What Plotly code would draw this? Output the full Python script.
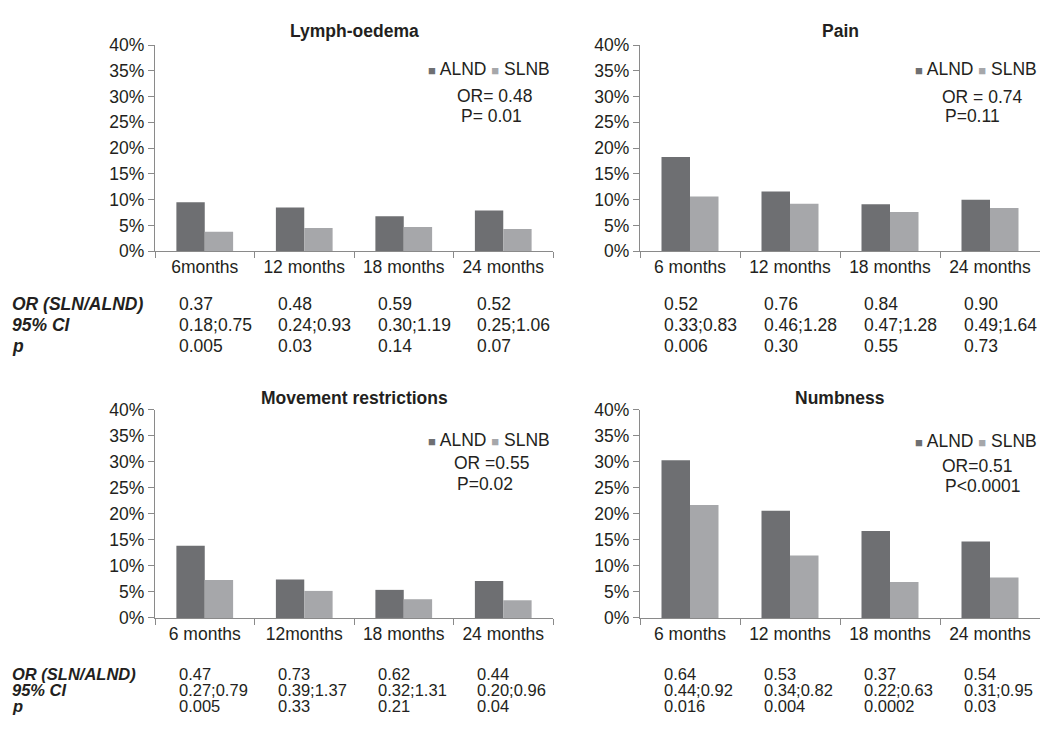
import plotly.graph_objects as go

# ---- data -------------------------------------------------------------
lymph_categories = ["6months", "12 months", "18 months", "24 months"]
pain_categories = ["6 months", "12 months", "18 months", "24 months"]
movement_categories = ["6 months", "12months", "18 months", "24 months"]
numbness_categories = ["6 months", "12 months", "18 months", "24 months"]

lymph_alnd = [9.5, 8.5, 6.8, 7.9]
lymph_slnb = [3.8, 4.5, 4.7, 4.3]
pain_alnd = [18.3, 11.6, 9.1, 10.0]
pain_slnb = [10.6, 9.2, 7.6, 8.4]
movement_alnd = [13.9, 7.4, 5.4, 7.1]
movement_slnb = [7.3, 5.2, 3.6, 3.4]
numbness_alnd = [30.3, 20.6, 16.7, 14.7]
numbness_slnb = [21.7, 12.0, 6.9, 7.8]

lymph_or = ["0.37", "0.48", "0.59", "0.52"]
lymph_ci = ["0.18;0.75", "0.24;0.93", "0.30;1.19", "0.25;1.06"]
lymph_p = ["0.005", "0.03", "0.14", "0.07"]
pain_or = ["0.52", "0.76", "0.84", "0.90"]
pain_ci = ["0.33;0.83", "0.46;1.28", "0.47;1.28", "0.49;1.64"]
pain_p = ["0.006", "0.30", "0.55", "0.73"]
movement_or = ["0.47", "0.73", "0.62", "0.44"]
movement_ci = ["0.27;0.79", "0.39;1.37", "0.32;1.31", "0.20;0.96"]
movement_p = ["0.005", "0.33", "0.21", "0.04"]
numbness_or = ["0.64", "0.53", "0.37", "0.54"]
numbness_ci = ["0.44;0.92", "0.34;0.82", "0.22;0.63", "0.31;0.95"]
numbness_p = ["0.016", "0.004", "0.0002", "0.03"]

panel_titles = ["Lymph-oedema", "Pain", "Movement restrictions", "Numbness"]
overall_or = ["OR= 0.48", "OR = 0.74", "OR =0.55", "OR=0.51"]
overall_p = ["P= 0.01", "P=0.11", "P=0.02", "P<0.0001"]
row_labels = ["OR (SLN/ALND)", "95% CI", "p"]
y_ticks = [0, 5, 10, 15, 20, 25, 30, 35, 40]
y_tick_text = ["0%", "5%", "10%", "15%", "20%", "25%", "30%", "35%", "40%"]

# ---- styling ----------------------------------------------------------
W, H = 1041, 734
FONT = "Liberation Sans, Arial, sans-serif"
TXT = "#231f20"
AX = "#8a8a8a"
C_ALND = "#6e6f72"
C_SLNB = "#a6a7aa"
FS = 17.5


def px(x):
    return x / W


def py(y):
    return 1 - y / H


panels = [
    dict(cats=lymph_categories, alnd=lymph_alnd, slnb=lymph_slnb,
         orv=lymph_or, ci=lymph_ci, p=lymph_p,
         x0=155, x1=553, y0=36, y1=248, title_y=22, leg_y=61,
         or_xy=(455, 88), p_xy=(459, 109), rows_y=[302, 324, 345],
         tsize=17.5, lsize=17.5),
    dict(cats=pain_categories, alnd=pain_alnd, slnb=pain_slnb,
         orv=pain_or, ci=pain_ci, p=pain_p,
         x0=640, x1=1040, y0=36, y1=248, title_y=22, leg_y=61,
         or_xy=(940, 89), p_xy=(943, 109), rows_y=[302, 324, 345],
         tsize=17.5, lsize=17.5),
    dict(cats=movement_categories, alnd=movement_alnd, slnb=movement_slnb,
         orv=movement_or, ci=movement_ci, p=movement_p,
         x0=155, x1=553, y0=411, y1=625, title_y=399, leg_y=442,
         or_xy=(452, 466), p_xy=(455, 487), rows_y=[683, 699, 715],
         tsize=16.5, lsize=16.5),
    dict(cats=numbness_categories, alnd=numbness_alnd, slnb=numbness_slnb,
         orv=numbness_or, ci=numbness_ci, p=numbness_p,
         x0=640, x1=1040, y0=411, y1=625, title_y=399, leg_y=443,
         or_xy=(940, 469), p_xy=(943, 489), rows_y=[683, 699, 715],
         tsize=16.5, lsize=16.5),
]

fig = go.Figure()
annotations = []
layout = {}

for i, pnl in enumerate(panels, start=1):
    suffix = "" if i == 1 else str(i)
    xa, ya = "x" + suffix, "y" + suffix

    fig.add_trace(go.Bar(x=pnl["cats"], y=pnl["alnd"], name="ALND",
                         marker=dict(color=C_ALND, line=dict(width=0)),
                         xaxis=xa, yaxis=ya, showlegend=False))
    fig.add_trace(go.Bar(x=pnl["cats"], y=pnl["slnb"], name="SLNB",
                         marker=dict(color=C_SLNB, line=dict(width=0)),
                         xaxis=xa, yaxis=ya, showlegend=False))

    layout["xaxis" + suffix] = dict(
        domain=[px(pnl["x0"]), px(pnl["x1"])], anchor=ya,
        type="category", categoryorder="array", categoryarray=pnl["cats"],
        showline=True, linecolor=AX, linewidth=1.3,
        ticks="outside", tickson="boundaries", ticklen=6, tickcolor=AX,
        tickfont=dict(size=FS, color=TXT, family=FONT),
        showgrid=False, zeroline=False, fixedrange=True,
    )
    layout["yaxis" + suffix] = dict(
        domain=[py(pnl["y1"]), py(pnl["y0"])], anchor=xa,
        range=[0, 40], tickmode="array",
        tickvals=y_ticks, ticktext=y_tick_text,
        showline=True, linecolor=AX, linewidth=1.3,
        ticks="outside", ticklen=6, tickcolor=AX,
        tickfont=dict(size=FS, color=TXT, family=FONT),
        showgrid=False, zeroline=False, fixedrange=True,
    )

    # panel title
    annotations.append(dict(
        text="<b>" + panel_titles[i - 1] + "</b>", xref="paper", yref="paper",
        x=px((pnl["x0"] + pnl["x1"]) / 2), y=py(pnl["title_y"]),
        xanchor="center", yanchor="middle", showarrow=False,
        font=dict(size=FS, color=TXT, family=FONT)))

    # series key
    annotations.append(dict(
        text=(f"<span style='color:{C_ALND};font-size:13px'>■</span> ALND "
              f"<span style='color:{C_SLNB};font-size:13px'>■</span> SLNB"),
        xref="paper", yref="paper", x=px(pnl["x1"] - 1), y=py(pnl["leg_y"]),
        xanchor="right", yanchor="middle", showarrow=False,
        font=dict(size=FS, color=TXT, family=FONT)))

    # overall odds ratio and p-value
    for txt, (ax_, ay_) in ((overall_or[i - 1], pnl["or_xy"]),
                            (overall_p[i - 1], pnl["p_xy"])):
        annotations.append(dict(
            text=txt, xref="paper", yref="paper", x=px(ax_), y=py(ay_),
            xanchor="left", yanchor="middle", showarrow=False,
            font=dict(size=FS, color=TXT, family=FONT)))

    # statistics table under each time point
    for row_vals, ry in zip((pnl["orv"], pnl["ci"], pnl["p"]), pnl["rows_y"]):
        for cat, val in zip(pnl["cats"], row_vals):
            annotations.append(dict(
                text=val, xref=xa, yref="paper", x=cat, y=py(ry),
                xanchor="left", yanchor="middle", xshift=-28,
                showarrow=False,
                font=dict(size=pnl["tsize"], color=TXT, family=FONT)))

    # row headings on the left-hand panels
    if pnl["x0"] < 300:
        for lab, ry in zip(row_labels, pnl["rows_y"]):
            annotations.append(dict(
                text="<b><i>" + lab + "</i></b>", xref="paper", yref="paper",
                x=px(10), y=py(ry), xanchor="left", yanchor="middle",
                showarrow=False,
                font=dict(size=pnl["lsize"], color=TXT, family=FONT)))

fig.update_layout(
    width=W, height=H,
    margin=dict(l=0, r=0, t=0, b=0),
    paper_bgcolor="white", plot_bgcolor="white",
    barmode="group", bargap=0.43, bargroupgap=0,
    font=dict(family=FONT, color=TXT, size=FS),
    annotations=annotations,
    **layout,
)

fig.write_html("out.html")
